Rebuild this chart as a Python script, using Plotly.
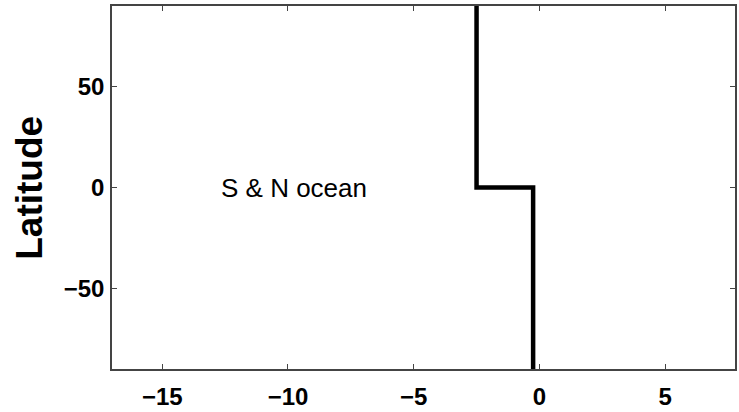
import plotly.graph_objects as go

# Data
flux_values = [-2.5, -2.5, -0.25, -0.25]
latitudes = [90, 0, 0, -90]
x_ticks = [-15, -10, -5, 0, 5]
y_ticks = [-50, 0, 50]
label_text = "S & N ocean"
label_x = -9.75
label_y = 0

W, H = 739, 412
ml, mr, mt, mb = 112, 2, 6, 40

fig = go.Figure()
fig.add_trace(go.Scatter(
    x=flux_values, y=latitudes, mode="lines",
    line=dict(color="black", width=4.5),
    showlegend=False, hoverinfo="skip",
))

axis_common = dict(
    showgrid=False, zeroline=False, showline=True, mirror="ticks",
    linecolor="#444444", linewidth=1.6,
    ticks="inside", ticklen=5, tickwidth=1.2, tickcolor="#444444",
    tickfont=dict(family="Liberation Sans, Arial, sans-serif", size=24, color="black", weight="bold"),
)

fig.update_layout(
    width=W, height=H,
    margin=dict(l=ml, r=mr, t=mt, b=mb, pad=0),
    paper_bgcolor="white", plot_bgcolor="white",
    xaxis=dict(range=[-17, 7.78], tickvals=x_ticks, ticklabelstandoff=5, **axis_common),
    yaxis=dict(range=[-90, 90], tickvals=y_ticks, ticklabelstandoff=1, **axis_common),
    annotations=[
        dict(text=label_text, x=label_x, y=label_y, xref="x", yref="y",
             showarrow=False, xanchor="center", yanchor="middle",
             font=dict(family="Liberation Sans, Arial, sans-serif", size=26, color="black")),
        dict(text="Latitude", x=-(112 - 29) / (W - ml - mr), y=0.5, xref="paper", yref="paper",
             showarrow=False, xanchor="center", yanchor="middle", textangle=-90,
             font=dict(family="Liberation Sans, Arial, sans-serif", size=37, color="black", weight="bold")),
    ],
)

fig.write_html("out.html")
